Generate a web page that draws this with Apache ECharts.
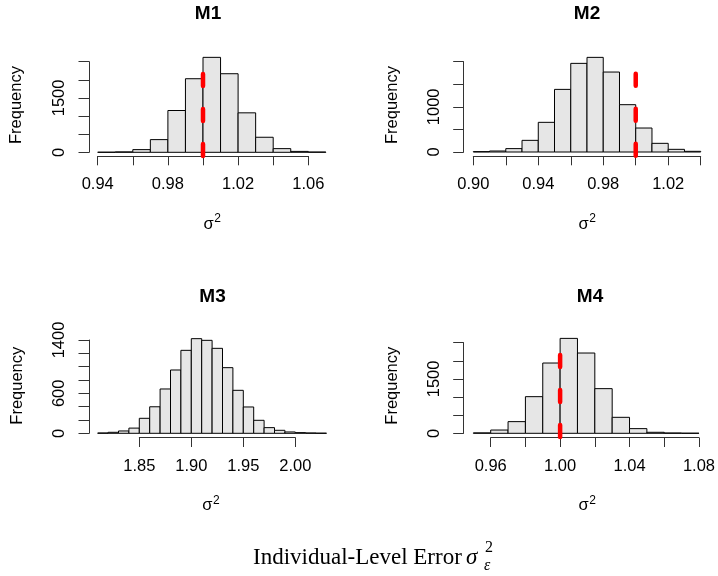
<!DOCTYPE html>
<html><head><meta charset="utf-8">
<script src="https://cdn.jsdelivr.net/npm/echarts@6/dist/echarts.min.js"></script>
<style>html,body{margin:0;padding:0;background:#fff}#c{width:718px;height:576px}</style>
</head><body><div id="c"></div>
<script>
// ---- data ----
const m1Breaks = [0.94,0.95,0.96,0.97,0.98,0.99,1.00,1.01,1.02,1.03,1.04,1.05,1.06,1.07];
const m1Counts = [3,12,74,350,1153,2030,2620,2168,1089,415,101,25,8];
const m2Breaks = [0.90,0.91,0.92,0.93,0.94,0.95,0.96,0.97,0.98,0.99,1.00,1.01,1.02,1.03,1.04];
const m2Counts = [8,22,75,258,657,1387,1963,2096,1771,1048,531,192,59,15];
const m3Breaks = [1.81,1.82,1.83,1.84,1.85,1.86,1.87,1.88,1.89,1.90,1.91,1.92,1.93,1.94,1.95,1.96,1.97,1.98,1.99,2.00,2.01,2.02,2.03];
const m3Counts = [5,15,35,78,225,398,665,950,1245,1420,1395,1275,985,645,395,195,85,45,20,10,5,2];
const m4Breaks = [0.95,0.96,0.97,0.98,0.99,1.00,1.01,1.02,1.03,1.04,1.05,1.06,1.07,1.08];
const m4Counts = [12,90,322,1011,1939,2619,2215,1232,441,129,28,9,3];

const m1Ref = 1.00, m2Ref = 1.00, m4Ref = 1.00;

// axis specs [min, max, step] and shown tick labels
const m1XAxis = [0.94, 1.06, 0.02], m1XLabels = ['0.94','0.98','1.02','1.06'];
const m1YAxis = [0, 2500, 500],     m1YLabels = ['0','1500'];
const m2XAxis = [0.90, 1.04, 0.02], m2XLabels = ['0.90','0.94','0.98','1.02'];
const m2YAxis = [0, 2000, 500],     m2YLabels = ['0','1000'];
const m3XAxis = [1.85, 2.00, 0.05], m3XLabels = ['1.85','1.90','1.95','2.00'];
const m3YAxis = [0, 1400, 200],     m3YLabels = ['0','600','1400'];
const m4XAxis = [0.96, 1.08, 0.02], m4XLabels = ['0.96','1.00','1.04','1.08'];
const m4YAxis = [0, 2500, 500],     m4YLabels = ['0','1500'];

const panelTitles = ['M1','M2','M3','M4'];
const yTitle = 'Frequency';
const outerTitle = 'Individual-Level Error ';

// ---- layout ----
const SANS = '"Liberation Sans", Arial, Helvetica, sans-serif';
const SERIF = '"Liberation Serif", "Times New Roman", serif';
const panels = [
  {breaks:m1Breaks, counts:m1Counts, ref:m1Ref, xa:m1XAxis, xl:m1XLabels, ya:m1YAxis, yl:m1YLabels,
   grid:{left:97.7, right:718-308.3, top:61.7, bottom:576-152.3}, yOff:8.7, xOff:3.7,
   titlePos:[208,14], freqPos:[16.7,105], sigPos:[211.7,224]},
  {breaks:m2Breaks, counts:m2Counts, ref:m2Ref, xa:m2XAxis, xl:m2XLabels, ya:m2YAxis, yl:m2YLabels,
   grid:{left:473.3, right:718-700.7, top:61.7, bottom:576-152}, yOff:9.6, xOff:4,
   titlePos:[587,14], freqPos:[392.3,105], sigPos:[586.8,224]},
  {breaks:m3Breaks, counts:m3Counts, ref:null, xa:m3XAxis, xl:m3XLabels, ya:m3YAxis, yl:m3YLabels,
   grid:{left:139.3, right:718-295.3, top:340, bottom:576-433.3}, yOff:50.3, xOff:4.4,
   titlePos:[212.5,297], freqPos:[17.3,385.7], sigPos:[210.5,505.5]},
  {breaks:m4Breaks, counts:m4Counts, ref:m4Ref, xa:m4XAxis, xl:m4XLabels, ya:m4YAxis, yl:m4YLabels,
   grid:{left:490.7, right:718-701.3, top:342.7, bottom:576-433.3}, yOff:27, xOff:4.4,
   titlePos:[590,297], freqPos:[392.3,385.7], sigPos:[586.8,505.5]}
];

const AXIS_COLOR = '#333';
const grids = [], xAxes = [], yAxes = [], series = [], graphics = [];

panels.forEach((p, i) => {
  grids.push(Object.assign({containLabel:false}, p.grid));
  xAxes.push({
    gridIndex:i, type:'value', min:p.xa[0], max:p.xa[1], interval:p.xa[2], offset:p.xOff,
    axisLine:{show:true, onZero:false, lineStyle:{color:AXIS_COLOR, width:1}},
    axisTick:{show:true, length:9.3, lineStyle:{color:AXIS_COLOR, width:1}},
    axisLabel:{show:true, color:'#000', fontSize:16.5, fontFamily:SANS, margin:20,
      showMinLabel:true, showMaxLabel:true,
      formatter:(v)=>{ const s=v.toFixed(2); return p.xl.includes(s)?s:''; }},
    splitLine:{show:false}
  });
  yAxes.push({
    gridIndex:i, type:'value', min:p.ya[0], max:p.ya[1], interval:p.ya[2], offset:p.yOff,
    axisLine:{show:true, onZero:false, lineStyle:{color:AXIS_COLOR, width:1}},
    axisTick:{show:true, length:10.5, lineStyle:{color:AXIS_COLOR, width:1}},
    axisLabel:{show:true, color:'#000', fontSize:16.5, fontFamily:SANS, margin:21, rotate:90,
      showMinLabel:true, showMaxLabel:true,
      formatter:(v)=>{ const s=String(Math.round(v)); return p.yl.includes(s)?s:''; }},
    splitLine:{show:false}
  });
  const data = p.counts.map((c, k) => [p.breaks[k], p.breaks[k+1], c]);
  series.push({
    type:'custom', xAxisIndex:i, yAxisIndex:i, data:data, clip:false, silent:true,
    encode:{x:[0,1], y:2},
    renderItem:(params, api)=>{
      const a = api.coord([api.value(0), 0]);
      const b = api.coord([api.value(1), api.value(2)]);
      return {type:'rect', shape:{x:a[0], y:b[1], width:b[0]-a[0], height:a[1]-b[1]},
        style:{fill:'#e6e6e6', stroke:'#000', lineWidth:1}};
    }
  });
  if (p.ref !== null) {
    const maxC = Math.max.apply(null, p.counts);
    series.push({
      type:'custom', xAxisIndex:i, yAxisIndex:i, data:[[p.ref]], clip:false, silent:true, z:5,
      encode:{x:0},
      renderItem:(params, api)=>{
        const x = api.value(0);
        const lo = api.coord([x, -0.04*maxC]);
        const hi = api.coord([x, 1.04*maxC]);
        return {type:'line', shape:{x1:lo[0], y1:lo[1], x2:hi[0], y2:hi[1]},
          style:{stroke:'#ff0000', lineWidth:4.5, lineDash:[12,23], lineCap:'round'}};
      }
    });
  }
  graphics.push({type:'text', x:p.titlePos[0], y:p.titlePos[1],
    style:{text:panelTitles[i], font:'bold 19px '+SANS, fill:'#000', textAlign:'center', verticalAlign:'middle'}});
  graphics.push({type:'text', x:p.freqPos[0], y:p.freqPos[1], rotation:Math.PI/2,
    style:{text:yTitle, font:'16.5px '+SANS, fill:'#000', textAlign:'center', verticalAlign:'middle'}});
  graphics.push({type:'text', x:p.sigPos[0]+2, y:p.sigPos[1],
    style:{text:'σ', font:'16.5px '+SANS, fill:'#000', textAlign:'right', verticalAlign:'middle'}});
  graphics.push({type:'text', x:p.sigPos[0]+2.5, y:p.sigPos[1]-5,
    style:{text:'2', font:'12px '+SANS, fill:'#000', textAlign:'left', verticalAlign:'middle'}});
});

// outer bottom label
graphics.push({type:'text', x:253, y:558.4,
  style:{text:outerTitle, font:'23px '+SERIF, fill:'#000', textAlign:'left', verticalAlign:'middle'}});
graphics.push({type:'text', x:466, y:558.4,
  style:{text:'σ', font:'italic 23px '+SERIF, fill:'#000', textAlign:'left', verticalAlign:'middle'}});
graphics.push({type:'text', x:485, y:548.2,
  style:{text:'2', font:'16px '+SERIF, fill:'#000', textAlign:'left', verticalAlign:'middle'}});
graphics.push({type:'text', x:484, y:566.2,
  style:{text:'ε', font:'italic 16px '+SERIF, fill:'#000', textAlign:'left', verticalAlign:'middle'}});

const chart = echarts.init(document.getElementById('c'), null, {renderer:'canvas'});
chart.setOption({
  animation:false,
  backgroundColor:'#ffffff',
  grid:grids, xAxis:xAxes, yAxis:yAxes, series:series, graphic:graphics
});
</script>
</body></html>
